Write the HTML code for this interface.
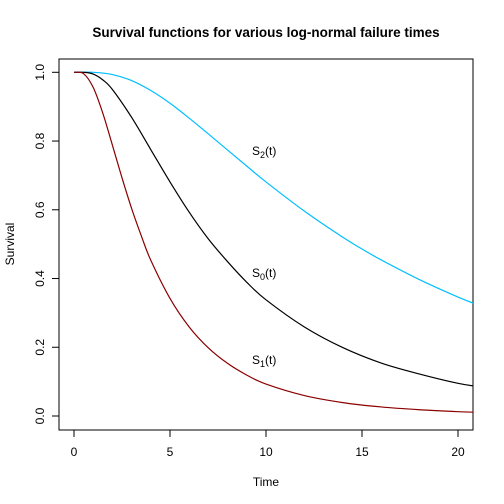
<!DOCTYPE html>
<html><head><meta charset="utf-8"><style>
body{margin:0;background:#fff}
svg{display:block;font-family:"Liberation Sans",Arial,sans-serif}
</style></head><body>
<svg id="chart" width="504" height="504" viewBox="0 0 504 504">
<rect width="504" height="504" fill="#fff"/>
<text x="266" y="37" text-anchor="middle" font-size="13.5" font-weight="bold">Survival functions for various log-normal failure times</text>
<rect x="59" y="59" width="414" height="371" fill="none" stroke="#000"/>
<g id="xaxis"></g>
<g id="yaxis"></g>
<text x="266" y="486" text-anchor="middle" font-size="12">Time</text>
<text transform="translate(14,244) rotate(-90)" text-anchor="middle" font-size="12">Survival</text>
<g id="series"></g>
<text x="252" y="155" font-size="12">S<tspan font-size="9" dy="3">2</tspan><tspan dy="-3">(t)</tspan></text>
<text x="252" y="277" font-size="12">S<tspan font-size="9" dy="3">0</tspan><tspan dy="-3">(t)</tspan></text>
<text x="252" y="364" font-size="12">S<tspan font-size="9" dy="3">1</tspan><tspan dy="-3">(t)</tspan></text>
</svg>
<script>
const xTicks=[0,5,10,15,20];
const yTicks=[0.0,0.2,0.4,0.6,0.8,1.0];
const tS0=[0,0.5,1,1.5,2,3,4,5,6,7,8,9,10,12,14,16,18,20,21];
const s0=[1,1,0.995,0.978,0.95,0.869,0.775,0.681,0.593,0.515,0.449,0.389,0.338,0.259,0.199,0.154,0.122,0.095,0.086];
const tS1=[0,0.5,1,1.5,2,2.5,3,3.5,4,5,6,7,8,9,10,12,14,16,18,20,21];
const s1=[1,0.996,0.956,0.881,0.788,0.693,0.604,0.525,0.453,0.342,0.259,0.198,0.153,0.119,0.093,0.0595,0.039,0.0263,0.0182,0.0126,0.0108];
const tS2=[0,1,2,3,4,5,6,7,8,9,10,12,14,15,16,18,20,21];
const s2=[1,1,0.9935,0.976,0.947,0.91,0.8665,0.8206,0.7737,0.727,0.681,0.596,0.52,0.486,0.454,0.3965,0.346,0.324];
const NS='http://www.w3.org/2000/svg';
const X=t=>74+t*19.2;
const Y=v=>416-v*343.7;
const svg=document.getElementById('chart');
const xa=document.getElementById('xaxis'),ya=document.getElementById('yaxis'),sg=document.getElementById('series');
function mk(tag,attrs,parent){const e=document.createElementNS(NS,tag);for(const k in attrs)e.setAttribute(k,attrs[k]);parent.appendChild(e);return e;}
xTicks.forEach(t=>{
 const l=mk('line',{x1:X(t),x2:X(t),y1:430,y2:437,stroke:'#000'},xa);
 
 
 const tx=mk('text',{x:X(t),y:456,'text-anchor':'middle','font-size':12},xa);
 tx.textContent=t;
 
 
});
yTicks.forEach(v=>{
 const l=mk('line',{x1:52,x2:59,y1:Y(v),y2:Y(v),stroke:'#000'},ya);
 
 
 const tx=mk('text',{transform:`translate(44,${Y(v)}) rotate(-90)`,'text-anchor':'middle','font-size':12},ya);
 tx.textContent=v.toFixed(1);
 
 
});
function pathD(ts,vs){
 const p=ts.map((t,i)=>[X(t),Y(vs[i])]);
 let d=`M${p[0][0]},${p[0][1]}`;
 for(let i=0;i<p.length-1;i++){
  const p0=p[Math.max(0,i-1)],p1=p[i],p2=p[i+1],p3=p[Math.min(p.length-1,i+2)];
  const c1=[p1[0]+(p2[0]-p0[0])/6,p1[1]+(p2[1]-p0[1])/6];
  const c2=[p2[0]-(p3[0]-p1[0])/6,p2[1]-(p3[1]-p1[1])/6];
  d+=` C${c1[0]},${c1[1]} ${c2[0]},${c2[1]} ${p2[0]},${p2[1]}`;
 }
 return d;
}
const cp=mk('clipPath',{id:'clip'},svg);mk('rect',{x:59,y:59,width:414,height:371},cp);
sg.setAttribute('clip-path','url(#clip)');
const a=mk('path',{d:pathD(tS2,s2),fill:'none',stroke:'#00bfff','stroke-width':1.2},sg);


const b=mk('path',{d:pathD(tS0,s0),fill:'none',stroke:'#000','stroke-width':1.2},sg);


const c=mk('path',{d:pathD(tS1,s1),fill:'none',stroke:'#8b0000','stroke-width':1.2},sg);


</script>
</body></html>
